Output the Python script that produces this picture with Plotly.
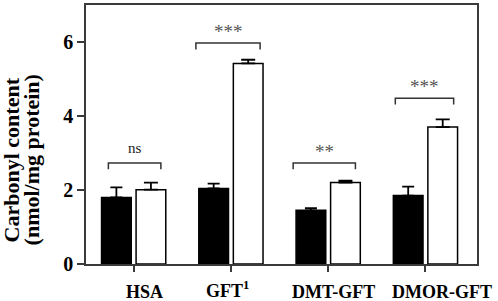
import plotly.graph_objects as go

categories = ["HSA", "GFT<sup>1</sup>", "DMT-GFT", "DMOR-GFT"]
black_values = [1.80, 2.04, 1.45, 1.85]
black_errors = [0.27, 0.13, 0.06, 0.24]
white_values = [2.01, 5.42, 2.20, 3.70]
white_errors = [0.19, 0.10, 0.05, 0.21]
sig_labels = ["ns", "***", "**", "***"]
sig_heights = [2.73, 5.97, 2.73, 4.48]
y_ticks = [0, 2, 4, 6]

xpos = list(range(len(categories)))
SERIF = "Liberation Serif, Times New Roman, serif"
AX = "#3a3a3a"

fig = go.Figure()
fig.add_trace(go.Bar(
    x=xpos, y=black_values, marker=dict(color="black", line=dict(color="black", width=1.5)),
    error_y=dict(type="data", array=black_errors, arrayminus=[0]*4, symmetric=False,
                 color="black", thickness=1.8, width=6),
    showlegend=False, hoverinfo="skip"))
fig.add_trace(go.Bar(
    x=xpos, y=white_values, marker=dict(color="white", line=dict(color="black", width=1.5)),
    error_y=dict(type="data", array=white_errors, arrayminus=[0]*4, symmetric=False,
                 color="black", thickness=1.8, width=7),
    showlegend=False, hoverinfo="skip"))

bracket_spans = [(-0.26, 0.28), (-0.36, 0.30), (-0.36, 0.28), (-0.31, 0.29)]
label_shifts = [11, -3, 5, 17]
label_yshifts = [-28, -25, -28, -28]

shapes = []
annotations = []
for i, (lab, h) in enumerate(zip(sig_labels, sig_heights)):
    x0, x1 = i + bracket_spans[i][0], i + bracket_spans[i][1]
    drop = 0.17
    shapes.append(dict(type="path", xref="x", yref="y",
                       path=f"M {x0} {h-drop} L {x0} {h} L {x1} {h} L {x1} {h-drop}",
                       line=dict(color="#333", width=1.5)))
    if lab == "ns":
        annotations.append(dict(x=(x0+x1)/2, y=h, xref="x", yref="y", text=lab, showarrow=False,
                                yanchor="bottom", yshift=5,
                                font=dict(family=SERIF, size=15, color="#222")))
    else:
        annotations.append(dict(x=(x0+x1)/2, y=h, xref="x", yref="y",
                                text=lab, showarrow=False,
                                yanchor="bottom", yshift=-1,
                                font=dict(family=SERIF, size=19, color="#555")))

for i, cat in enumerate(categories):
    annotations.append(dict(x=i, y=0, xref="x", yref="paper", text=cat, showarrow=False,
                            xanchor="center", yanchor="middle",
                            xshift=label_shifts[i], yshift=label_yshifts[i],
                            font=dict(family=SERIF, size=18, color="black", weight="bold")))

annotations.append(dict(text="Carbonyl content", xref="paper", yref="paper", x=0, y=0.40,
                        xanchor="center", yanchor="middle", xshift=-75, textangle=-90, showarrow=False,
                        font=dict(family=SERIF, size=22, color="black", weight="bold")))
annotations.append(dict(text="(nmol/mg protein)", xref="paper", yref="paper", x=0, y=0.40,
                        xanchor="center", yanchor="middle", xshift=-55, textangle=-90, showarrow=False,
                        font=dict(family=SERIF, size=22, color="black", weight="bold")))

fig.update_layout(
    width=498, height=301,
    margin=dict(l=86, r=21, t=3, b=37),
    paper_bgcolor="white", plot_bgcolor="white",
    barmode="group", bargap=0.29, bargroupgap=0.14,
    shapes=shapes, annotations=annotations,
    xaxis=dict(range=[-0.49, 3.53], tickmode="array", tickvals=xpos, showticklabels=False,
               showline=True, linecolor=AX, linewidth=1.5, mirror=True,
               ticks="outside", ticklen=6, tickwidth=1.5, tickcolor=AX,
               showgrid=False, zeroline=False),
    yaxis=dict(range=[0, 7], tickmode="array", tickvals=y_ticks,
               showline=True, linecolor=AX, linewidth=1.5, mirror=True,
               ticks="outside", ticklen=7, tickwidth=1.5, tickcolor=AX,
               showgrid=False, zeroline=False,
               tickfont=dict(family=SERIF, size=20, color="black", weight="bold")),
)

fig.write_html("out.html", config={"displayModeBar": False},
               post_script="document.body.style.margin='0';document.body.style.overflow='hidden';")
